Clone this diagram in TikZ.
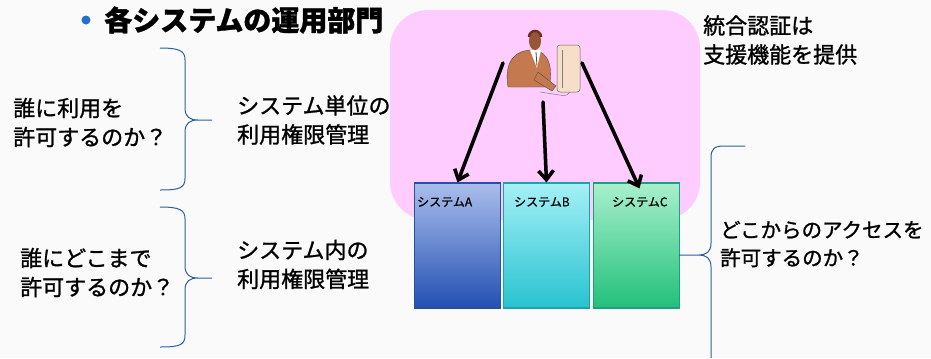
\documentclass[tikz,border=0pt]{standalone}
\usepackage{fontspec}
\newfontfamily\jp{Noto Sans CJK JP}[FakeBold=1.2]
\usetikzlibrary{arrows.meta,positioning}

\definecolor{paper}{RGB}{250,250,250}
\definecolor{panelpink}{RGB}{255,204,255}
\definecolor{bulletblue}{RGB}{32,112,200}
\definecolor{braceblue}{RGB}{44,95,158}
\definecolor{sysAtop}{RGB}{170,190,236}
\definecolor{sysAbot}{RGB}{35,80,178}
\definecolor{sysAline}{RGB}{40,80,160}
\definecolor{sysBtop}{RGB}{165,240,246}
\definecolor{sysBbot}{RGB}{40,195,208}
\definecolor{sysBline}{RGB}{30,160,176}
\definecolor{sysCtop}{RGB}{168,240,204}
\definecolor{sysCbot}{RGB}{34,192,122}
\definecolor{sysCline}{RGB}{30,158,128}
\definecolor{suit}{RGB}{196,122,78}
\definecolor{face}{RGB}{150,88,52}
\definecolor{hair}{RGB}{120,40,30}
\definecolor{beige}{RGB}{246,222,200}

\tikzset{
  note/.style={anchor=west, align=left, inner sep=0pt,
    font={\jp\fontsize{22bp}{29bp}\selectfont}},
  sysbox/.style={line width=1.2bp, minimum width=86bp, minimum height=125bp, inner sep=0pt},
  syslabel/.style={anchor=west, inner sep=0pt, font={\jp\fontsize{12bp}{14bp}\selectfont}},
  bracepen/.style={draw=braceblue, line width=1bp},
  push/.style={-{Straight Barb[length=9bp,width=15bp]}, line width=3.5bp, line cap=round},
  pushshade/.style={push, draw=black!40, opacity=.6, xshift=1.5bp, yshift=-1.5bp}
}

\begin{document}
\begin{tikzpicture}[x=1bp, y=-1bp]
\useasboundingbox (0,0) rectangle (931,358);
\fill[paper] (0,0) rectangle (931,358);

% integrated authentication area
\fill[panelpink, rounded corners=38bp] (390,10) rectangle (700,220);

% heading
\fill[bulletblue] (86,20) circle (4.5bp);
\node[anchor=west, inner sep=0pt, font={\jp\bfseries\fontsize{28bp}{32bp}\selectfont}] (title) at (104,20) {各システムの運用部門};

% the three systems
\node[sysbox, draw=sysAline, top color=sysAtop, bottom color=sysAbot] (sysA) at (457.5,245.5) {};
\node[sysbox, draw=sysBline, top color=sysBtop, bottom color=sysBbot] (sysB) at (546.5,245.5) {};
\node[sysbox, draw=sysCline, top color=sysCtop, bottom color=sysCbot] (sysC) at (636.5,245.5) {};
\node[syslabel] (labA) at (417,202) {システムA};
\node[syslabel] (labB) at (514,202) {システムB};
\node[syslabel] (labC) at (612,202) {システムC};

% operator at his terminal
\fill[suit, draw=black!70, line width=.4bp] (508,87) .. controls (504,62) and (514,50) .. (533,50)
  .. controls (550,51) and (553,70) .. (549,87) -- cycle;
\fill[white] (530,50) -- (541,50) -- (537,68) -- cycle;
\draw[black!70, line width=.8bp] (536,52) -- (537,66);
\fill[face] (535,41) ellipse (6bp and 9bp);
\draw[hair, line width=2.5bp] (529,37) arc[start angle=180, end angle=0, radius=6bp];
\fill[suit, draw=black!70, line width=.4bp] (538,72) -- (556,86) -- (552,91) -- (534,80) -- cycle;
\filldraw[fill=beige, draw=black!60, line width=.5bp, rounded corners=3bp] (557,45) rectangle (580,92);
\draw[black!50, line width=.5bp] (562,50) -- (562,88);
\draw[black!50, line width=.5bp, rounded corners=2bp] (540,92) -- (566,96) -- (570,92);
\coordinate (fromA) at (503,63);
\coordinate (fromB) at (543,102);
\coordinate (fromC) at (582,63);

\draw[pushshade] (fromA) -- (sysA.north);
\draw[pushshade] (fromB) -- (sysB.north);
\draw[pushshade] (fromC) -- ([shift={(3,6)}]sysC.north);
\draw[push] (fromA) -- (sysA.north);
\draw[push] (fromB) -- (sysB.north);
\draw[push] (fromC) -- ([shift={(3,6)}]sysC.north);

% questions and braces on the left
\coordinate (b1top) at (160,48);
\coordinate (b1bot) at (160,190);
\coordinate (b1tip) at (212,120);
\coordinate (b2top) at (160,207);
\coordinate (b2bot) at (160,347);
\coordinate (b2tip) at (212,278);
\draw[bracepen] (b1top) .. controls (180,48) and (185,51) .. (185,60) -- (185,108)
  .. controls (185,117) and (190,120) .. (198,120) -- (b1tip) -- (198,120)
  .. controls (190,120) and (185,123) .. (185,132) -- (185,178)
  .. controls (185,188) and (180,190) .. (b1bot);
\draw[bracepen] (b2top) .. controls (180,207) and (185,210) .. (185,219) -- (185,266)
  .. controls (185,275) and (190,278) .. (198,278) -- (b2tip) -- (198,278)
  .. controls (190,278) and (185,281) .. (185,290) -- (185,335)
  .. controls (185,345) and (180,347) .. (b2bot);

\node[note] (q1) at (13,122.5) {誰に利用を\\許可するのか？};
\node[note, right=25bp of b1tip] (m1) {システム単位の\\利用権限管理};
\node[note] (q2) at (20,272.5) {誰にどこまで\\許可するのか？};
\node[note] (m2) at (237,264.5) {システム内の\\利用権限管理};

% right hand side
\node[note] (sso) at (703,40) {統合認証は\\支援機能を提供};
\coordinate (b3top) at (745,146);
\coordinate (b3bot) at (711,358);
\coordinate (b3tip) at (679,255);
\draw[bracepen] (b3top) -- (724,146) .. controls (714,146) and (711,149) .. (711,158) -- (711,243)
  .. controls (711,252) and (706,255) .. (699,255) -- (b3tip) -- (699,255)
  .. controls (706,255) and (711,258) .. (711,267) -- (b3bot);
\node[note, font={\jp\fontsize{20.5bp}{28bp}\selectfont}] (q3) at (720,244) {どこからのアクセスを\\許可するのか？};
\end{tikzpicture}
\end{document}
